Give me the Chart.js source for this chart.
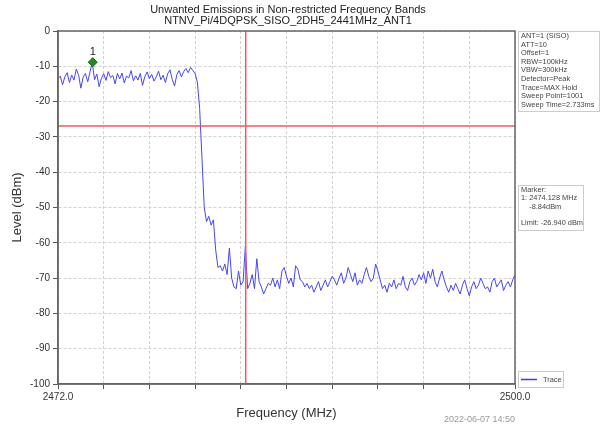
<!DOCTYPE html>
<html lang="en">
<head>
<meta charset="UTF-8">
<title>Unwanted Emissions</title>
<style>
  html, body { margin: 0; padding: 0; background: #fff; }
  canvas { display: block; }
</style>
</head>
<body>
<canvas id="canvas" width="602" height="428"></canvas>
<script src="https://cdn.jsdelivr.net/npm/chart.js@4.4.0/dist/chart.umd.min.js"></script>
<script>
'use strict';

// sweep: 2472.0 - 2500.0 MHz, one level read every 0.14 MHz
var FREQ_START = 2472.0;
var FREQ_STOP = 2500.0;
var FREQ_STEP = 0.14;

// trace levels (dBm), rows of 10
var levels = [
  -13.5, -12.8, -15.2, -13.0, -11.8, -14.6, -12.5, -13.9, -10.8, -12.4,
  -16.2, -13.1, -12.0, -14.4, -11.6,  -9.0, -13.8, -12.2, -15.8, -13.4,
  -12.1, -14.0, -11.5, -13.2, -12.6, -15.0, -12.0, -13.6, -11.9, -14.7,
  -12.8, -13.3, -11.2, -14.1, -12.7, -13.9, -12.0, -15.4, -12.9, -11.6,
  -13.5, -12.3, -14.2, -13.0, -11.4, -13.8, -12.5, -14.6, -12.1, -11.0,
  -13.7, -15.6, -12.4, -11.2, -13.0, -11.5, -10.6, -11.8, -10.3, -11.2,
  -12.0, -14.5, -22.0, -36.0, -50.0, -54.0, -52.5, -55.0, -53.5, -62.0,
  -67.0, -66.5, -68.0, -66.0, -69.0, -61.5, -70.0, -72.5, -73.0, -68.0,
  -72.0, -71.0, -61.0, -73.0, -71.5, -69.0, -73.0, -64.5, -71.0, -72.5,
  -74.5, -73.0, -71.5, -72.0, -70.0, -72.5, -70.5, -73.0, -68.0, -67.0,
  -69.5, -71.5, -70.0, -72.5, -66.5, -67.5, -70.5, -71.0, -72.5, -71.5,
  -73.0, -72.0, -74.0, -72.5, -71.0, -73.5, -72.0, -70.5, -72.5, -71.0,
  -69.5, -70.5, -72.0, -70.0, -68.5, -71.5, -70.0, -67.0, -69.0, -71.0,
  -68.5, -72.0, -70.5, -71.5, -69.0, -67.0, -69.5, -71.0, -70.0, -66.0,
  -68.0, -70.5, -73.0, -72.0, -74.0, -71.5, -72.5, -70.5, -73.0, -71.5,
  -72.0, -69.5, -72.5, -73.5, -71.0, -70.0, -72.0, -71.0, -69.0, -70.5,
  -68.5, -71.5, -68.0, -70.0, -67.5, -71.0, -72.5, -70.0, -68.0, -70.5,
  -72.5, -74.0, -72.0, -73.5, -71.5, -73.0, -74.5, -72.0, -70.5, -73.0,
  -75.0, -72.5, -71.0, -73.0, -72.0, -70.0, -71.5, -73.0, -72.5, -74.0,
  -71.0, -70.0, -72.5, -71.5, -70.5, -73.5, -72.0, -71.0, -72.5, -70.5,
  -69.0
];

var LIMIT = -26.94;
var BAND_EDGE = 2483.5;
var markerFreq = 2474.128;
var markerLevel = -8.84;

var yTicks = [0, -10, -20, -30, -40, -50, -60, -70, -80, -90, -100];
var xTickCount = 10;

var infoLines = [
  'ANT=1 (SISO)', 'ATT=10', 'Offset=1', 'RBW=100kHz', 'VBW=300kHz',
  'Detector=Peak', 'Trace=MAX Hold', 'Sweep Point=1001', 'Sweep Time=2.733ms'
];
var markerLines = ['Marker:', '1: 2474.128 MHz', '    -8.84dBm', '', 'Limit: -26.940 dBm'];
var titleLines = [
  'Unwanted Emissions in Non-restricted Frequency Bands',
  'NTNV_Pi/4DQPSK_SISO_2DH5_2441MHz_ANT1'
];
var dateText = '2022-06-07 14:50';

var FONT = '"Liberation Sans", Arial, sans-serif';

var trace = levels.map(function(v, i) {
  return { x: FREQ_START + i * FREQ_STEP, y: v };
});

var decor = {
  id: 'decor',
  afterDraw: function(chart) {
    var c = chart.ctx;
    var a = chart.chartArea;
    c.save();

    // frame round the plot
    c.strokeStyle = '#666';
    c.lineWidth = 1.5;
    c.strokeRect(a.left, a.top, a.right - a.left, a.bottom - a.top);

    // titles
    c.fillStyle = '#222';
    c.font = '11px ' + FONT;
    c.textAlign = 'center';
    c.textBaseline = 'middle';
    c.fillText(titleLines[0], 288, 10);
    c.fillText(titleLines[1], 288, 21);

    // marker label
    var mx = chart.scales.x.getPixelForValue(markerFreq);
    var my = chart.scales.y.getPixelForValue(markerLevel);
    c.font = '11px ' + FONT;
    c.fillText('1', mx, my - 10);

    // info boxes
    function box(x, y, w, h, lines, step) {
      c.fillStyle = '#fff';
      c.strokeStyle = '#ccc';
      c.lineWidth = 1;
      c.strokeRect(x + 0.5, y + 0.5, w, h);
      c.fillStyle = '#444';
      c.font = '7.4px ' + FONT;
      c.textAlign = 'left';
      c.textBaseline = 'middle';
      lines.forEach(function(t, i) {
        c.fillText(t, x + 3, y + 5 + i * step);
      });
    }
    box(518, 31, 81, 80, infoLines, 8.6);
    box(518, 185, 65, 45, markerLines, 8.3);

    // legend
    c.strokeStyle = '#ccc';
    c.strokeRect(518.5, 371.5, 45, 16);
    c.strokeStyle = '#3b3bf5';
    c.lineWidth = 1.5;
    c.beginPath();
    c.moveTo(521, 379.5);
    c.lineTo(537, 379.5);
    c.stroke();
    c.fillStyle = '#444';
    c.font = '7.4px ' + FONT;
    c.fillText('Trace', 543, 380);

    // date stamp
    c.fillStyle = '#999';
    c.font = '9px ' + FONT;
    c.textAlign = 'right';
    c.fillText(dateText, 515, 420);

    c.restore();
  }
};

var config = {
  type: 'line',
  data: {
    datasets: [{
      label: 'Trace',
      data: trace,
      borderColor: '#4646f5',
      borderWidth: 1,
      pointRadius: 0,
      tension: 0,
      order: 2
    }, {
      label: 'Limit',
      data: [{ x: FREQ_START, y: LIMIT }, { x: FREQ_STOP, y: LIMIT }],
      borderColor: '#f05a5a',
      borderWidth: 1.5,
      pointRadius: 0,
      order: 1
    }, {
      label: 'Band edge',
      data: [{ x: BAND_EDGE, y: -100 }, { x: BAND_EDGE, y: 0 }],
      borderColor: '#f05a5a',
      borderWidth: 1.5,
      pointRadius: 0,
      order: 1
    }, {
      label: 'Marker',
      data: [{ x: markerFreq, y: markerLevel }],
      showLine: false,
      pointStyle: 'rectRot',
      pointRadius: 4.5,
      backgroundColor: '#1c8c1c',
      borderColor: '#126612',
      borderWidth: 1,
      order: 0
    }]
  },
  options: {
    responsive: false,
    animation: false,
    layout: {
      padding: { top: 31, right: 87, bottom: 0, left: 0 }
    },
    plugins: {
      legend: { display: false },
      tooltip: { enabled: false }
    },
    scales: {
      x: {
        type: 'linear',
        min: FREQ_START,
        max: FREQ_STOP,
        afterFit: function(s) { s.height = 44; },
        afterBuildTicks: function(s) {
          var t = [];
          for (var k = 0; k <= xTickCount; k++) {
            t.push({ value: FREQ_START + k * (FREQ_STOP - FREQ_START) / xTickCount });
          }
          s.ticks = t;
        },
        ticks: {
          color: '#333',
          font: { size: 10, family: FONT },
          maxRotation: 0,
          autoSkip: false,
          padding: 2,
          callback: function(v, i, arr) {
            return (i === 0 || i === arr.length - 1) ? Number(v).toFixed(1) : '';
          }
        },
        grid: {
          color: '#d2d2d2',
          tickColor: '#555',
          tickLength: 5,
          lineWidth: 1
        },
        border: { color: '#666', width: 1.5, dash: [3, 2] },
        title: {
          display: true,
          text: 'Frequency (MHz)',
          color: '#333',
          font: { size: 13, family: FONT },
          padding: { top: 4, bottom: 7 }
        }
      },
      y: {
        min: -100,
        max: 0,
        afterFit: function(s) { s.width = 58; },
        afterBuildTicks: function(s) {
          s.ticks = yTicks.map(function(v) { return { value: v }; });
        },
        ticks: {
          color: '#333',
          font: { size: 10, family: FONT },
          padding: 3
        },
        grid: {
          color: '#d2d2d2',
          tickColor: '#555',
          tickLength: 5,
          lineWidth: 1
        },
        border: { color: '#666', width: 1.5, dash: [3, 2] },
        title: {
          display: true,
          text: 'Level (dBm)',
          color: '#333',
          font: { size: 13, family: FONT },
          padding: { top: 10, bottom: 4 }
        }
      }
    }
  },
  plugins: [decor]
};

var ctx = document.getElementById('canvas').getContext('2d');
var chart = new Chart(ctx, config);
</script>
</body>
</html>
